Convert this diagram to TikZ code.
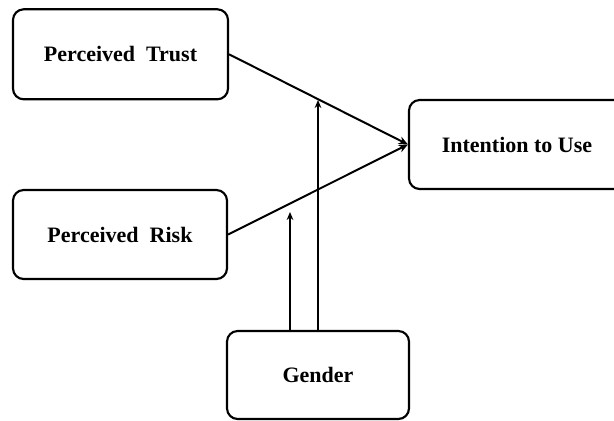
\documentclass[tikz,border=0pt]{standalone}
\usepackage{fontspec}
\setmainfont{Liberation Serif}
\usetikzlibrary{arrows.meta}
\begin{document}
\begin{tikzpicture}[x=0.75pt,y=-0.75pt,
  box/.style={draw,line width=1.6pt,rounded corners=8pt,inner sep=0pt,font=\bfseries\fontsize{16.5}{18}\selectfont},
  conn/.style={line width=1.5pt,-{Stealth[length=7pt,width=6pt]}},
  mod/.style={line width=1.5pt,-{Stealth[length=6pt,width=5pt]}}]
\useasboundingbox (0,0) rectangle (614,421);
\node[box,minimum width=161.25pt,minimum height=67.5pt] (trust) at (120.5,54.3) {Perceived\ \ Trust};
\node[box,minimum width=160.5pt,minimum height=66.75pt] (risk) at (120,234.5) {Perceived\ \ Risk};
\node[box,minimum width=162pt,minimum height=66.75pt] (use) at (517,144.5) {Intention to Use};
\node[box,minimum width=136.5pt,minimum height=66pt] (gender) at (318,375) {Gender};
\coordinate (t1) at (318,100);
\coordinate (t2) at (290,212);
\draw[conn] (trust.east) -- (use.west);
\draw[conn] (risk.east) -- (use.west);
\draw[mod] (gender.north) -- (t1);
\draw[mod] (gender.north -| t2) -- (t2);
\end{tikzpicture}
\end{document}
